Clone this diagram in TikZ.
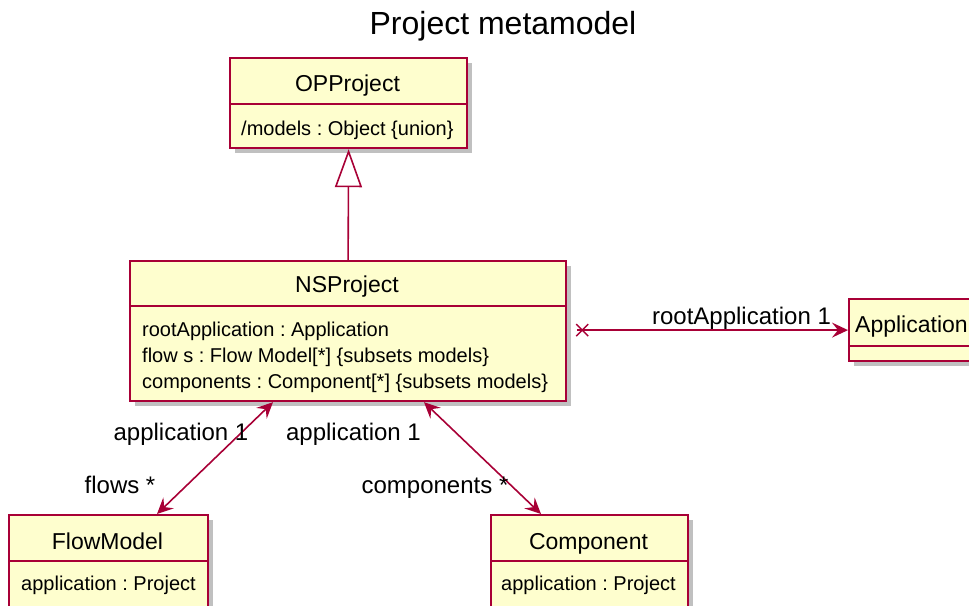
\documentclass[tikz,border=0pt]{standalone}
\usepackage{fontspec}
\setmainfont{Liberation Sans}
\usetikzlibrary{arrows.meta,shadows}
\definecolor{umlfill}{HTML}{FEFECE}
\definecolor{umlred}{HTML}{A80036}
\frenchspacing
\tikzset{
  cls/.style={draw=umlred, fill=umlfill, line width=2.2pt, rectangle, inner sep=0pt,
    anchor=north west,
    drop shadow={shadow xshift=5pt, shadow yshift=-5pt, fill=black!55, opacity=0.45}},
  sep/.style={draw=umlred, line width=2pt},
  cname/.style={font=\fontsize{23}{27}\selectfont, anchor=base, inner sep=0pt},
  attr/.style={font=\fontsize{20}{24}\selectfont, anchor=base west, inner sep=0pt},
  lbl/.style={font=\fontsize{24}{28}\selectfont, anchor=base, inner sep=0pt},
  assoc/.style={draw=umlred, line width=1.6pt, >={Stealth[length=16pt,width=15pt,inset=6pt]}},
}
\begin{document}
\begin{tikzpicture}[x=1pt,y=-1pt]
\useasboundingbox (0,0) rectangle (969,605);

% title
\node[font=\fontsize{32}{38}\selectfont, anchor=base, inner sep=0pt] (title) at (503,34) {Project metamodel};

% OPProject
\node[cls, minimum width=237pt, minimum height=90pt] (op) at (229,57) {};
\draw[sep] (op.west |- 0,104) -- (op.east |- 0,104);
\node[cname] (opname) at (347.5,91) {OPProject};
\node[attr] (opattr) at (241,135) {/models : Object \{union\}};

% NSProject
\node[cls, minimum width=436pt, minimum height=140pt] (ns) at (129,260) {};
\draw[sep] (ns.west |- 0,306) -- (ns.east |- 0,306);
\node[cname] (nsname) at (347,292) {NSProject};
\node[attr] (nsa1) at (142,336) {rootApplication : Application};
\node[attr] (nsa2) at (142,362) {flow s : Flow Model[*] \{subsets models\}};
\node[attr] (nsa3) at (142,388) {components : Component[*] \{subsets models\}};

% Application
\node[cls, minimum width=126pt, minimum height=62pt] (app) at (848,298) {};
\draw[sep] (app.west |- 0,346) -- (app.east |- 0,346);
\node[cname, anchor=base west] (appname) at (855,332) {Application};

% FlowModel
\node[cls, minimum width=199pt, minimum height=92pt] (fm) at (8,514) {};
\draw[sep] (fm.west |- 0,561) -- (fm.east |- 0,561);
\node[cname] (fmname) at (107.5,549) {FlowModel};
\node[attr] (fmattr) at (21,590) {application : Project};

% Component
\node[cls, minimum width=197pt, minimum height=92pt] (comp) at (490,514) {};
\draw[sep] (comp.west |- 0,561) -- (comp.east |- 0,561);
\node[cname] (compname) at (588.5,549) {Component};
\node[attr] (compattr) at (501,590) {application : Project};

% generalization NSProject -> OPProject
\draw[draw=umlred, line width=1.6pt,
  -{Triangle[length=38pt,width=27pt,fill=white,line width=1.6pt]}]
  (ns.north) -- (op.south);

% rootApplication association, non-navigable end marked with a cross
\coordinate (rootstart) at ([xshift=10pt]ns.east |- app.west);
\draw[assoc, ->] (rootstart) -- (app.west);
\draw[draw=umlred, line width=1.4pt]
  ([xshift=5pt]rootstart) coordinate (xc)
  (xc) ++(-6,-6) -- ++(12,12)
  (xc) ++(-6,6) -- ++(12,-12);
\node[lbl] (lroot) at (741.5,324) {rootApplication 1};

% flows association
\draw[assoc, <->] ([xshift=144pt]ns.south west) -- ([xshift=149pt]fm.north west);
\node[lbl] (lapp1) at (181,440) {application 1};
\node[lbl] (lflows) at (120,493) {flows *};

% components association
\draw[assoc, <->] ([xshift=295pt]ns.south west) -- ([xshift=51pt]comp.north west);
\node[lbl] (lapp2) at (353.5,440) {application 1};
\node[lbl] (lcomp) at (435,493) {components *};
\end{tikzpicture}
\end{document}
